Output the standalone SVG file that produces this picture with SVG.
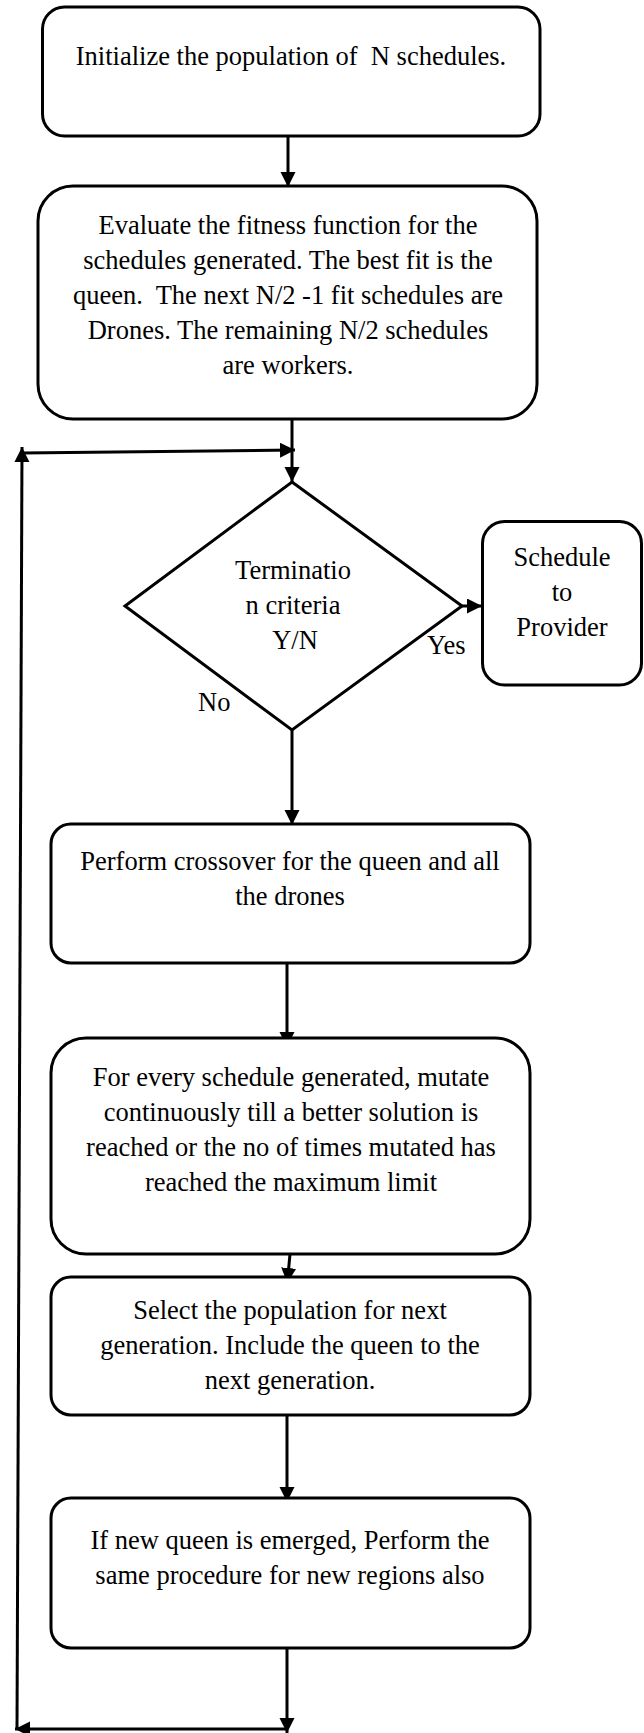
<svg xmlns="http://www.w3.org/2000/svg" width="644" height="1733" viewBox="0 0 644 1733">
  <defs>
    <marker id="arrow" markerUnits="userSpaceOnUse" markerWidth="16" markerHeight="16" refX="15" refY="7.5" orient="auto">
      <path d="M0,0 L15,7.5 L0,15 z" fill="#000"/>
    </marker>
  </defs>
  <style>
    .box { fill: #fff; stroke: #000; stroke-width: 3; }
    .conn { fill: none; stroke: #000; stroke-width: 3; }
    .t { font-family: "Liberation Serif", "Times New Roman", serif; font-size: 26.5px; fill: #000; text-anchor: middle; }
    .l { font-family: "Liberation Serif", "Times New Roman", serif; font-size: 26.5px; fill: #000; }
  </style>
  <rect width="644" height="1733" fill="#fff"/>

  <g id="connectors">
    <line class="conn" x1="288" y1="137" x2="288" y2="187" marker-end="url(#arrow)"/>
    <line class="conn" x1="292" y1="419" x2="292" y2="482" marker-end="url(#arrow)"/>
    <line class="conn" x1="22" y1="453" x2="295" y2="450" marker-end="url(#arrow)"/>
    <line class="conn" x1="17" y1="1729" x2="22" y2="447" marker-end="url(#arrow)"/>
    <line class="conn" x1="287" y1="1729" x2="15" y2="1729" marker-end="url(#arrow)"/>
    <line class="conn" x1="287" y1="1648" x2="287" y2="1733" marker-end="url(#arrow)"/>
    <line class="conn" x1="462" y1="606" x2="482" y2="606" marker-end="url(#arrow)"/>
    <line class="conn" x1="292" y1="730" x2="292" y2="825" marker-end="url(#arrow)"/>
    <line class="conn" x1="287" y1="956" x2="287" y2="1047" marker-end="url(#arrow)"/>
    <line class="conn" x1="290" y1="1254" x2="287.3" y2="1283" marker-end="url(#arrow)"/>
    <line class="conn" x1="287" y1="1415" x2="287" y2="1502" marker-end="url(#arrow)"/>
  </g>

  <g id="init">
    <rect class="box" x="42.5" y="7" width="497.5" height="129" rx="22" ry="22"/>
    <text class="t" x="291" y="65" xml:space="preserve">Initialize the population of  N schedules.</text>
  </g>

  <g id="evaluate">
    <rect class="box" x="38" y="186" width="499" height="233" rx="35" ry="35"/>
    <text class="t" x="288" y="234">Evaluate the fitness function for the</text>
    <text class="t" x="288" y="269">schedules generated. The best fit is the</text>
    <text class="t" x="288" y="304" xml:space="preserve">queen.  The next N/2 -1 fit schedules are</text>
    <text class="t" x="288" y="339">Drones. The remaining N/2 schedules</text>
    <text class="t" x="288" y="374">are workers.</text>
  </g>

  <g id="decision">
    <polygon class="box" points="292,482 462,606 292,730 125,606"/>
    <text class="t" x="293" y="579">Terminatio</text>
    <text class="t" x="293" y="614">n criteria</text>
    <text class="t" x="295" y="649">Y/N</text>
    <text class="l" x="427" y="654">Yes</text>
    <text class="l" x="198" y="711">No</text>
  </g>

  <g id="schedule">
    <rect class="box" x="482.5" y="521.5" width="159" height="163.5" rx="22" ry="22"/>
    <text class="t" x="562" y="566">Schedule</text>
    <text class="t" x="562" y="601">to</text>
    <text class="t" x="562" y="636">Provider</text>
  </g>

  <g id="crossover">
    <rect class="box" x="51" y="824" width="479" height="139" rx="20" ry="20"/>
    <text class="t" x="290" y="870">Perform crossover for the queen and all</text>
    <text class="t" x="290" y="905">the drones</text>
  </g>

  <g id="mutate">
    <rect class="box" x="51" y="1038" width="479" height="216" rx="35" ry="35"/>
    <text class="t" x="291" y="1086">For every schedule generated, mutate</text>
    <text class="t" x="291" y="1121">continuously till a better solution is</text>
    <text class="t" x="291" y="1156">reached or the no of times mutated has</text>
    <text class="t" x="291" y="1191">reached the maximum limit</text>
  </g>

  <g id="select">
    <rect class="box" x="51" y="1277" width="479" height="138" rx="20" ry="20"/>
    <text class="t" x="290" y="1319">Select the population for next</text>
    <text class="t" x="290" y="1354">generation. Include the queen to the</text>
    <text class="t" x="290" y="1389">next generation.</text>
  </g>

  <g id="newqueen">
    <rect class="box" x="51" y="1498" width="479" height="150" rx="20" ry="20"/>
    <text class="t" x="290" y="1549">If new queen is emerged, Perform the</text>
    <text class="t" x="290" y="1584">same procedure for new regions also</text>
  </g>
</svg>
